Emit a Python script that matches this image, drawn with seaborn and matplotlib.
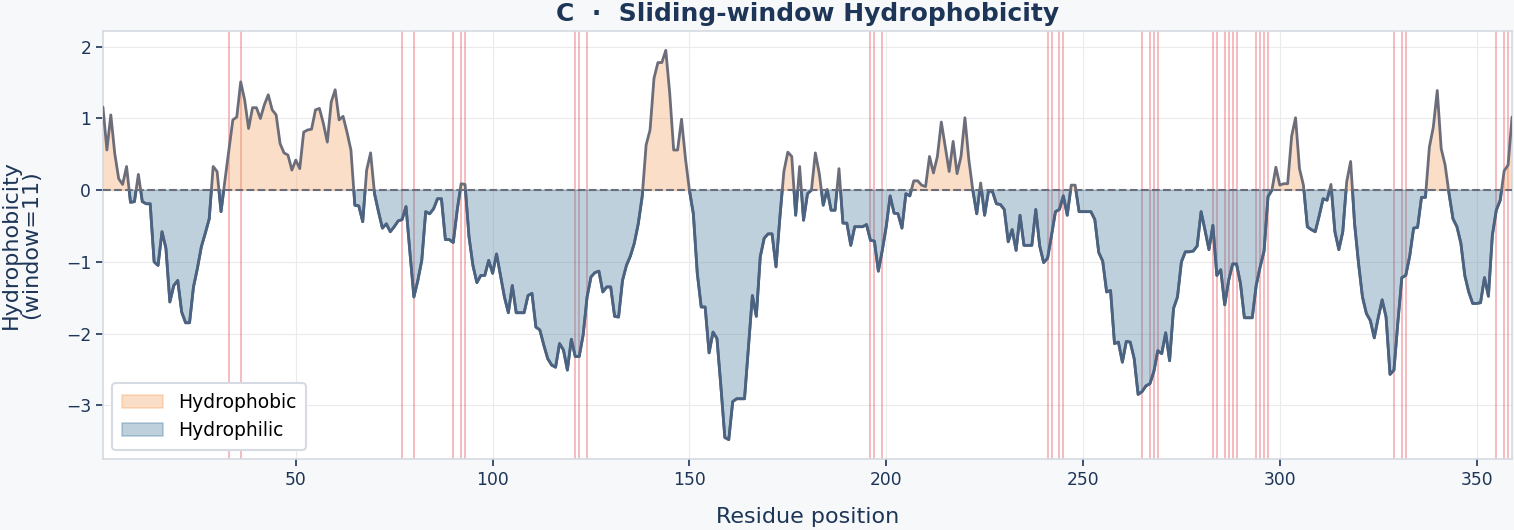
import numpy as np
import matplotlib.pyplot as plt
import seaborn as sns
from matplotlib.transforms import Bbox, TransformedBbox

sns.set_theme(style="whitegrid")
plt.rcParams["font.family"] = ["DejaVu Sans"]

# sliding-window hydrophobicity (window=11), residues 1..359
hydro = [
    1.16, 0.56, 1.05, 0.51, 0.16, 0.08, 0.33, -0.17, -0.16, 0.22,
    -0.16, -0.19, -0.19, -1.00, -1.05, -0.58, -0.81, -1.56, -1.33, -1.26,
    -1.70, -1.85, -1.85, -1.35, -1.09, -0.79, -0.60, -0.40, 0.33, 0.26,
    -0.30, 0.14, 0.56, 0.98, 1.02, 1.51, 1.26, 0.86, 1.15, 1.15,
    1.00, 1.19, 1.33, 1.12, 1.05, 0.65, 0.52, 0.49, 0.28, 0.42,
    0.30, 0.81, 0.84, 0.85, 1.12, 1.14, 0.93, 0.67, 1.23, 1.40,
    0.98, 1.03, 0.81, 0.56, -0.21, -0.22, -0.44, 0.28, 0.52, -0.05,
    -0.30, -0.53, -0.47, -0.58, -0.51, -0.43, -0.41, -0.23, -0.87, -1.49,
    -1.26, -0.98, -0.30, -0.33, -0.26, -0.12, -0.12, -0.69, -0.69, -0.73,
    -0.28, 0.09, 0.08, -0.65, -1.05, -1.29, -1.19, -1.19, -0.98, -1.16,
    -0.89, -1.19, -1.49, -1.71, -1.33, -1.71, -1.71, -1.71, -1.47, -1.44,
    -1.91, -1.95, -2.16, -2.35, -2.44, -2.47, -2.14, -2.23, -2.51, -2.08,
    -2.32, -2.32, -2.02, -1.49, -1.21, -1.15, -1.13, -1.42, -1.35, -1.35,
    -1.76, -1.77, -1.26, -1.05, -0.92, -0.74, -0.47, -0.09, 0.63, 0.84,
    1.56, 1.78, 1.78, 1.95, 1.35, 0.56, 0.56, 0.99, 0.44, 0.00,
    -0.33, -1.16, -1.63, -1.63, -2.27, -1.98, -2.07, -2.74, -3.45, -3.48,
    -2.95, -2.91, -2.91, -2.91, -2.19, -1.47, -1.76, -0.93, -0.67, -0.61,
    -0.61, -1.07, -0.37, 0.26, 0.53, 0.47, -0.35, 0.33, -0.42, -0.05,
    0.00, 0.52, 0.23, -0.21, 0.01, -0.28, -0.28, 0.30, -0.46, -0.46,
    -0.77, -0.51, -0.51, -0.51, -0.48, -0.70, -0.71, -1.13, -0.84, -0.51,
    -0.08, -0.32, -0.33, -0.53, -0.05, -0.08, 0.13, 0.13, 0.07, 0.05,
    0.47, 0.24, 0.47, 0.95, 0.60, 0.26, 0.68, 0.23, 0.47, 1.01,
    0.42, 0.00, -0.33, 0.10, -0.35, -0.01, -0.02, -0.19, -0.20, -0.27,
    -0.72, -0.55, -0.84, -0.35, -0.77, -0.77, -0.77, -0.27, -0.78, -1.01,
    -0.95, -0.63, -0.30, -0.27, -0.08, -0.35, 0.07, 0.07, -0.30, -0.30,
    -0.30, -0.30, -0.41, -0.87, -0.99, -1.42, -1.40, -2.14, -2.12, -2.40,
    -2.11, -2.12, -2.35, -2.85, -2.81, -2.73, -2.70, -2.53, -2.24, -2.28,
    -1.99, -2.38, -1.65, -1.49, -1.00, -0.86, -0.86, -0.85, -0.78, -0.30,
    -0.56, -0.83, -0.49, -1.19, -1.11, -1.60, -1.26, -1.03, -1.03, -1.30,
    -1.78, -1.78, -1.78, -1.33, -1.07, -0.85, -0.09, 0.00, 0.32, 0.07,
    0.09, 0.09, 0.75, 1.01, 0.30, 0.07, -0.51, -0.55, -0.58, -0.36,
    -0.12, -0.14, 0.08, -0.58, -0.83, -0.58, 0.12, 0.40, -0.47, -1.02,
    -1.49, -1.72, -1.82, -2.06, -1.78, -1.53, -1.77, -2.57, -2.51, -1.84,
    -1.22, -1.19, -0.92, -0.53, -0.52, -0.10, -0.10, 0.60, 0.88, 1.39,
    0.58, 0.35, -0.05, -0.40, -0.51, -0.74, -1.19, -1.42, -1.58, -1.58,
    -1.57, -1.22, -1.48, -0.63, -0.28, -0.14, 0.27, 0.35, 1.02,
]
positions = list(range(1, len(hydro) + 1))

# residues highlighted with red vertical markers
marked = [33, 36, 77, 80, 90, 92, 93, 121, 122, 124, 196, 197, 199,
          241, 242, 244, 245, 265, 267, 268, 269, 283, 284, 286, 287,
          288, 289, 294, 295, 296, 297, 329, 331, 332, 355, 357, 358]

navy = "#1d3557"
x = np.array(positions)
y = np.array(hydro)

fig = plt.figure(figsize=(15.14, 5.3), dpi=100, facecolor="#f7f8fa")
ax = fig.add_axes([0.068, 0.134, 0.9307, 0.8075])
ax.set_facecolor("white")

for r in marked:
    ax.axvline(r, color="#e63946", alpha=0.4, lw=1.2, zorder=1)

ax.fill_between(x, y, 0, where=y >= 0, interpolate=True, facecolor="#f4a261",
                edgecolor="#f4a261", linewidth=1.2, alpha=0.35,
                label="Hydrophobic", zorder=2)
ax.fill_between(x, y, 0, where=y < 0, interpolate=True, facecolor="#457b9d",
                edgecolor="#457b9d", linewidth=1.2, alpha=0.35,
                label="Hydrophilic", zorder=2)

ax.set_xlim(1, 359)
ax.set_ylim(-3.75, 2.22)

# grey profile line, overdrawn in slate blue below zero
sns.lineplot(x=x, y=y, color="#6b6e7a", lw=2, ax=ax, zorder=3)
low_line, = ax.plot(x, y, color="#4a6382", lw=2, zorder=4)
low_half = TransformedBbox(Bbox([[-10, -10], [400, 0]]), ax.transData)
low_line.set_clip_box(low_half)
low_line.set_clip_path(None)

ax.axhline(0, color="#6b6e7a", ls="--", lw=1.5, zorder=5)

ax.set_yticks([-3, -2, -1, 0, 1, 2])
ax.grid(True, color="#ebebeb", lw=0.8)
for s in ax.spines.values():
    s.set_color("#d5dae3")
    s.set_linewidth(1.2)

ax.tick_params(axis="both", colors=navy, labelsize=12.3, length=5, width=1.2,
               left=True, bottom=True)
ax.set_title("C  ·  Sliding-window Hydrophobicity", fontsize=18, fontweight="bold",
             color=navy, pad=7)
ax.set_xlabel("Residue position", fontsize=16, color=navy, labelpad=13)
ax.set_ylabel("Hydrophobicity\n(window=11)", fontsize=16, color=navy,
              labelpad=18, linespacing=1.0)

leg = ax.legend(loc="lower left", fontsize=13.5, frameon=True, handlelength=2.2,
                borderpad=0.5, facecolor="white", framealpha=1)
leg.get_frame().set_edgecolor("#d5dae3")
leg.get_frame().set_linewidth(1.5)
for t in leg.get_texts():
    t.set_color("black")

fig.savefig("out.png", dpi=100, facecolor=fig.get_facecolor())
plt.close(fig)
